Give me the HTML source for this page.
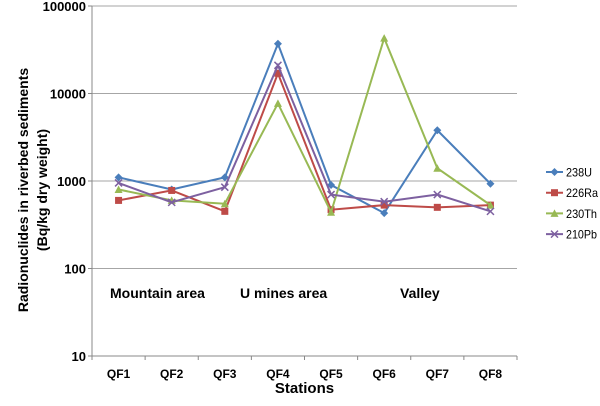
<!DOCTYPE html>
<html><head><meta charset="utf-8"><style>
body{margin:0;background:#fff;width:600px;height:401px;overflow:hidden}
svg text{font-family:"Liberation Sans",sans-serif;font-weight:bold;fill:#000}
</style></head><body>
<svg id="c" width="600" height="401" xmlns="http://www.w3.org/2000/svg"></svg>
<script>
const s=document.getElementById('c');let h='';
const L=92,R=517,T=6,B=356,dec=87.5;
const y=v=>B-(Math.log10(v)-1)*dec, x=i=>L+(i+0.5)*(R-L)/8;
[100000,10000,1000,100].forEach(v=>{h+=`<line x1="${L}" x2="${R}" y1="${y(v)}" y2="${y(v)}" stroke="#a6a6a6"/>`});
[100000,10000,1000,100,10].forEach(v=>{h+=`<text x="${L-6}" y="${y(v)+5}" font-size="13" text-anchor="end">${v}</text><line x1="${L-4}" x2="${L}" y1="${y(v)}" y2="${y(v)}" stroke="#888"/>`});
h+=`<line x1="${L}" x2="${L}" y1="${T}" y2="${B}" stroke="#888"/><line x1="${L}" x2="${R}" y1="${B}" y2="${B}" stroke="#888"/>`;
for(let i=0;i<=8;i++){let xx=L+i*(R-L)/8;h+=`<line x1="${xx}" x2="${xx}" y1="${B}" y2="${B+4}" stroke="#888"/>`}
for(let i=0;i<8;i++)h+=`<text x="${x(i)}" y="${B+22}" font-size="12" text-anchor="middle">QF${i+1}</text>`;
h+=`<text x="${(L+R)/2}" y="393" font-size="15" text-anchor="middle">Stations</text>`;
h+=`<text transform="translate(28,190) rotate(-90)" font-size="14" text-anchor="middle">Radionuclides in riverbed sediments</text>`;
h+=`<text transform="translate(47,190) rotate(-90)" font-size="14" text-anchor="middle">(Bq/kg dry weight)</text>`;
h+=`<text x="110" y="298" font-size="14">Mountain area</text><text x="240" y="298" font-size="14">U mines area</text><text x="400" y="298" font-size="14">Valley</text>`;
const S=[["238U","#4a7ebb",[1100,800,1100,37000,900,430,3800,930],"d",26],
["226Ra","#be4b48",[600,780,450,17000,470,530,500,530],"s",32],
["230Th","#98b954",[800,600,550,7700,440,43000,1400,530],"t",31],
["210Pb","#7d60a0",[950,570,850,21000,700,580,700,450],"x",31]];
function mk(t,cx,cy,c){if(t=="d")return `<polygon points="${cx},${cy-4} ${cx+4},${cy} ${cx},${cy+4} ${cx-4},${cy}" fill="${c}"/>`;
if(t=="s")return `<rect x="${cx-3.5}" y="${cy-3.5}" width="7" height="7" fill="${c}"/>`;
if(t=="t")return `<polygon points="${cx},${cy-4} ${cx+4},${cy+3.5} ${cx-4},${cy+3.5}" fill="${c}"/>`;
return `<path d="M${cx-3.5},${cy-3.5}L${cx+3.5},${cy+3.5}M${cx-3.5},${cy+3.5}L${cx+3.5},${cy-3.5}" stroke="${c}" stroke-width="1.5"/>`}
S.forEach((d,k)=>{h+=`<polyline fill="none" stroke="${d[1]}" stroke-width="2" points="${d[2].map((v,i)=>x(i)+','+y(v)).join(' ')}"/>`;
d[2].forEach((v,i)=>h+=mk(d[3],x(i),y(v),d[1]));
let ly=172+k*20.7;h+=`<line x1="546" x2="563" y1="${ly}" y2="${ly}" stroke="${d[1]}" stroke-width="2"/>`+mk(d[3],554.5,ly,d[1])+`<text x="566" y="${ly+4.5}" font-size="12" textLength="${d[4]}" lengthAdjust="spacingAndGlyphs" style="font-weight:normal">${d[0]}</text>`;});
s.innerHTML=h;
</script>
</body></html>
